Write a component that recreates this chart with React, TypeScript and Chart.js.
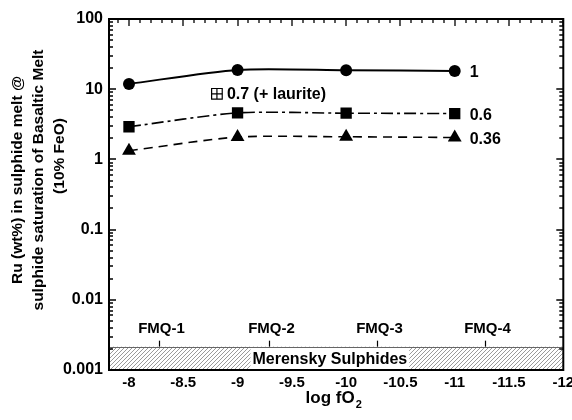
import React, { useEffect, useRef } from 'react';
import { Chart, registerables } from 'chart.js';

Chart.register(...registerables);

const FONT = '"Liberation Sans", Arial, Helvetica, sans-serif';

// ---- data ----
const fo2 = [-8, -9, -10, -11];
const ru1 = [11.9, 18.8, 18.6, 18.2];
const ru06 = [2.92, 4.6, 4.55, 4.5];
const ru036 = [1.33, 2.08, 2.1, 2.05];
const seriesNames = ['1', '0.6', '0.36'];
const lauriteX = [-8.81];
const lauriteY = [8.6];
const lauriteLabel = '0.7 (+ laurite)';
const xTickValues = [-8, -8.5, -9, -9.5, -10, -10.5, -11, -11.5, -12];
const yTickValues = [0.001, 0.01, 0.1, 1, 10, 100];
const fmqX = [-8.28, -9.29, -10.28, -11.28];
const fmqLabels = ['FMQ-1', 'FMQ-2', 'FMQ-3', 'FMQ-4'];
const merenskyRange = [0.001, 0.00215];
const merenskyLabel = 'Merensky Sulphides';
const merenskyLabelX = -9.85;
const xMin = -12;
const xMax = -7.816;
const yMin = 0.001;
const yMax = 100;
const yTitle = ['Ru (wt%) in sulphide melt @', 'sulphide saturation of Basaltic Melt', '(10% FeO)'];
const xTitleMain = 'log fO';
const xTitleSub = '2';

const pts = (ys: number[]) => fo2.map((x, i) => ({ x, y: ys[i] }));

export default function App() {
  const ref = useRef<HTMLCanvasElement | null>(null);

  useEffect(() => {
    const canvas = ref.current;
    if (!canvas) return;

    const pc = document.createElement('canvas');
    pc.width = 4;
    pc.height = 4;
    const p = pc.getContext('2d')!;
    p.fillStyle = '#fff';
    p.fillRect(0, 0, 4, 4);
    p.strokeStyle = '#9a9a9a';
    p.lineWidth = 1;
    p.beginPath();
    p.moveTo(-1, 5);
    p.lineTo(5, -1);
    p.moveTo(-1, 1);
    p.lineTo(1, -1);
    p.moveTo(3, 5);
    p.lineTo(5, 3);
    p.stroke();

    const decor = {
      id: 'decor',
      beforeDatasetsDraw(chart: any) {
        const { ctx, chartArea: a, scales } = chart;
        const x = scales.x;
        const y = scales.y;
        const pattern = ctx.createPattern(pc, 'repeat');
        const yTop = y.getPixelForValue(merenskyRange[1]);
        const yBot = y.getPixelForValue(merenskyRange[0]);
        ctx.save();
        ctx.fillStyle = pattern;
        ctx.fillRect(a.left, yTop, a.right - a.left, yBot - yTop);
        ctx.strokeStyle = '#666';
        ctx.lineWidth = 1;
        ctx.beginPath();
        ctx.moveTo(a.left, Math.round(yTop) + 0.5);
        ctx.lineTo(a.right, Math.round(yTop) + 0.5);
        ctx.stroke();
        ctx.font = `bold 16px ${FONT}`;
        const w = ctx.measureText(merenskyLabel).width + 4;
        const cx = x.getPixelForValue(merenskyLabelX);
        ctx.fillStyle = '#fff';
        ctx.fillRect(cx - w / 2, Math.round(yTop) + 1, w, yBot - Math.round(yTop) - 1);
        ctx.fillStyle = '#000';
        ctx.textAlign = 'center';
        ctx.textBaseline = 'middle';
        ctx.fillText(merenskyLabel, cx, (yTop + yBot) / 2 + 1);
        // FMQ ticks and labels
        ctx.strokeStyle = '#000';
        ctx.lineWidth = 1.2;
        ctx.font = `bold 15px ${FONT}`;
        fmqX.forEach((v, i) => {
          const px = Math.round(x.getPixelForValue(v)) + 0.5;
          ctx.beginPath();
          ctx.moveTo(px, yTop);
          ctx.lineTo(px, yTop - 6);
          ctx.stroke();
          ctx.fillText(fmqLabels[i], px + 2, yTop - 18);
        });
        ctx.restore();
      },
      afterDraw(chart: any) {
        const { ctx, chartArea: a, scales } = chart;
        const x = scales.x;
        const y = scales.y;
        ctx.save();
        // frame
        ctx.strokeStyle = '#000';
        ctx.lineWidth = 2;
        ctx.strokeRect(a.left, a.top, a.right - a.left, a.bottom - a.top);
        // inward ticks, left & right
        ctx.lineWidth = 1.3;
        ctx.beginPath();
        for (let e = -3; e <= 1; e++) {
          for (let k = 1; k <= 10; k++) {
            const v = k * Math.pow(10, e);
            const py = Math.round(y.getPixelForValue(v));
            const len = k === 1 || k === 10 ? 7 : 4;
            ctx.moveTo(a.left, py);
            ctx.lineTo(a.left + len, py);
            ctx.moveTo(a.right, py);
            ctx.lineTo(a.right - len, py);
          }
        }
        // inward ticks, top
        for (let i = 79; i <= 120; i++) {
          const px = Math.round(x.getPixelForValue(-i / 10));
          const len = i % 5 === 0 ? 7 : 4;
          ctx.moveTo(px, a.top);
          ctx.lineTo(px, a.top + len);
        }
        ctx.stroke();
        // series labels
        ctx.fillStyle = '#000';
        ctx.font = `bold 16px ${FONT}`;
        ctx.textAlign = 'left';
        ctx.textBaseline = 'middle';
        const lasts = [ru1, ru06, ru036];
        lasts.forEach((arr, i) => {
          const n = arr.length - 1;
          const px = x.getPixelForValue(fo2[n]);
          const py = y.getPixelForValue(arr[n]);
          ctx.fillText(seriesNames[i], px + 15, py + 2);
        });
        // laurite label
        ctx.fillText(
          lauriteLabel,
          x.getPixelForValue(lauriteX[0]) + 10,
          y.getPixelForValue(lauriteY[0]) + 1
        );
        // y title
        ctx.font = `bold 15.5px ${FONT}`;
        ctx.textAlign = 'center';
        const yt = [
          [18, 180],
          [39, 180],
          [60, 156],
        ];
        yTitle.forEach((line, i) => {
          ctx.save();
          ctx.translate(yt[i][0], yt[i][1]);
          ctx.rotate(-Math.PI / 2);
          ctx.fillText(line, 0, 0);
          ctx.restore();
        });
        // x title
        ctx.textAlign = 'left';
        ctx.textBaseline = 'alphabetic';
        ctx.font = `bold 17px ${FONT}`;
        const w1 = ctx.measureText(xTitleMain).width;
        ctx.font = `bold 11px ${FONT}`;
        const w2 = ctx.measureText(xTitleSub).width;
        const cx = (a.left + a.right) / 2 - 3;
        const sx = cx - (w1 + w2) / 2;
        ctx.font = `bold 17px ${FONT}`;
        ctx.fillText(xTitleMain, sx, 403);
        ctx.font = `bold 11px ${FONT}`;
        ctx.fillText(xTitleSub, sx + w1 + 1, 408);
        ctx.restore();
      },
    };

    const chart = new Chart(canvas, {
      type: 'line',
      data: {
        datasets: [
          {
            label: seriesNames[0],
            data: pts(ru1),
            borderColor: '#000',
            backgroundColor: '#000',
            borderWidth: 2,
            pointStyle: 'circle',
            pointRadius: 6,
            pointBorderWidth: 0,
            tension: 0.25,
          },
          {
            label: seriesNames[1],
            data: pts(ru06),
            borderColor: '#000',
            backgroundColor: '#000',
            borderWidth: 1.6,
            borderDash: [12, 4, 3, 4],
            pointStyle: 'rect',
            pointRadius: 8,
            pointBorderWidth: 0,
            tension: 0.25,
          },
          {
            label: seriesNames[2],
            data: pts(ru036),
            borderColor: '#000',
            backgroundColor: '#000',
            borderWidth: 1.6,
            borderDash: [9, 6],
            pointStyle: 'triangle',
            pointRadius: 8,
            pointBorderWidth: 0,
            tension: 0.25,
          },
          {
            label: 'laurite-cross',
            data: lauriteX.map((xv, i) => ({ x: xv, y: lauriteY[i] })),
            showLine: false,
            borderColor: '#000',
            backgroundColor: '#000',
            pointStyle: 'cross',
            pointRadius: 5.3,
            pointBorderWidth: 1.2,
          },
          {
            label: 'laurite-box',
            data: lauriteX.map((xv, i) => ({ x: xv, y: lauriteY[i] })),
            showLine: false,
            borderColor: '#000',
            backgroundColor: '#fff',
            pointStyle: 'rect',
            pointRadius: 7.5,
            pointBorderWidth: 1.2,
          },
        ],
      },
      options: {
        animation: false,
        responsive: false,
        layout: { padding: { left: 0, top: 19, right: 8, bottom: 0 } },
        plugins: { legend: { display: false }, tooltip: { enabled: false } },
        scales: {
          x: {
            type: 'linear',
            min: xMin,
            max: xMax,
            reverse: true,
            afterBuildTicks: (s: any) => {
              s.ticks = xTickValues.map((v) => ({ value: v }));
            },
            afterFit: (s: any) => {
              s.height = 50;
              s.paddingLeft = 0;
              s.paddingRight = 0;
            },
            ticks: {
              autoSkip: false,
              maxRotation: 0,
              padding: 4,
              color: '#000',
              font: { family: FONT, size: 15, weight: 'bold' },
              callback: (v: any) => String(v),
            },
            grid: { display: false, drawTicks: false },
            border: { display: false },
          },
          y: {
            type: 'logarithmic',
            min: yMin,
            max: yMax,
            afterBuildTicks: (s: any) => {
              s.ticks = yTickValues.map((v) => ({ value: v }));
            },
            afterFit: (s: any) => {
              s.width = 109;
              s.paddingTop = 0;
              s.paddingBottom = 0;
            },
            ticks: {
              autoSkip: false,
              padding: 6,
              color: '#000',
              font: { family: FONT, size: 16, weight: 'bold' },
              callback: (v: any) => String(v),
            },
            grid: { display: false, drawTicks: false },
            border: { display: false },
          },
        },
      },
      plugins: [decor],
    } as any);

    return () => chart.destroy();
  }, []);

  return (
    <div style={{ position: 'fixed', left: 0, top: 0, width: 572, height: 420, background: '#fff' }}>
      <canvas ref={ref} width={572} height={420} style={{ display: 'block' }} />
    </div>
  );
}
